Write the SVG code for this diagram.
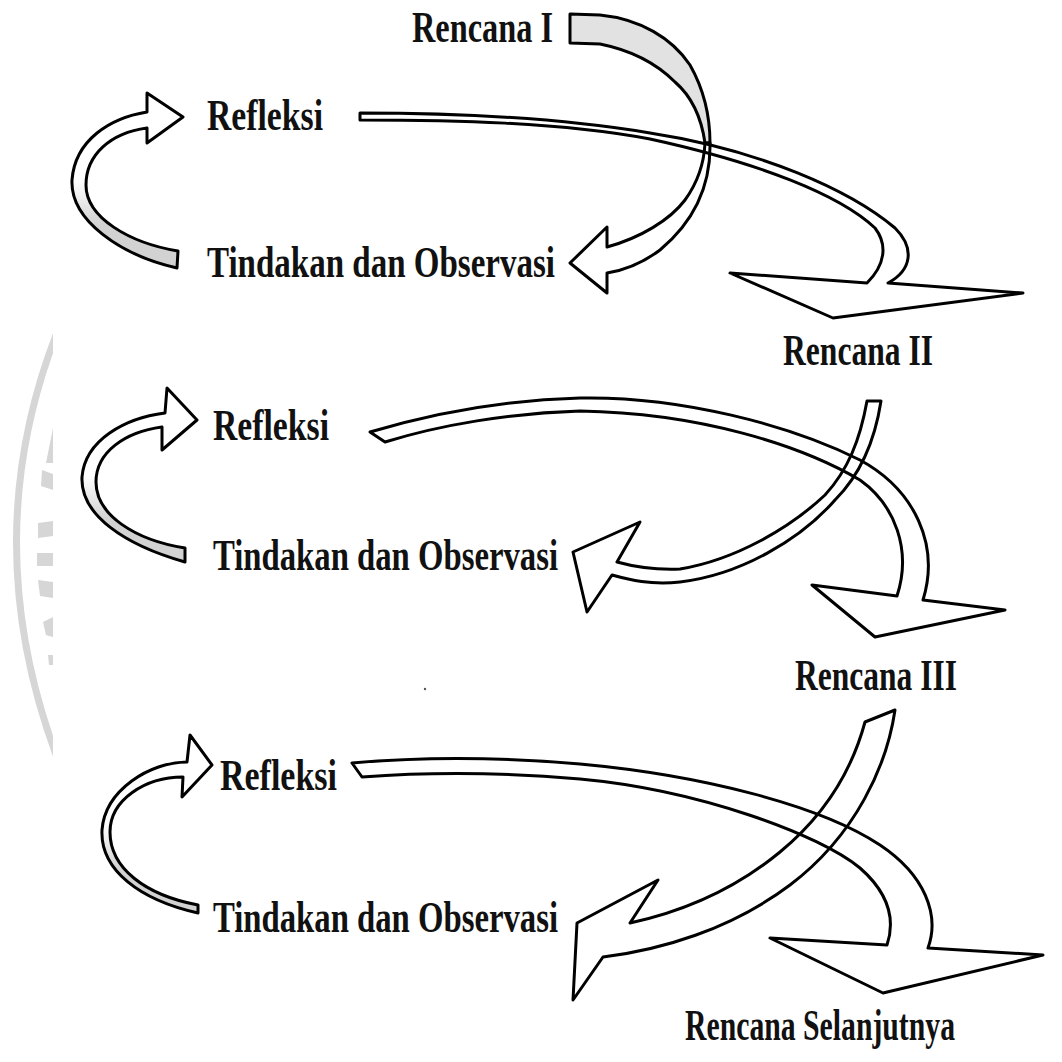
<svg xmlns="http://www.w3.org/2000/svg" xmlns:xlink="http://www.w3.org/1999/xlink" width="1062" height="1062" viewBox="0 0 1062 1062">
  <style>
    .lbl { font-family: "Liberation Serif", "Times New Roman", serif; font-size: 44px; font-weight: bold; fill: #111; }
    .edge { fill: none; stroke: #000; stroke-width: 3; stroke-linejoin: round; }
    .white { fill: #fff; stroke: none; }
    .shade { fill: #e2e2e2; stroke: none; }
    .loop { fill: url(#loopShade); stroke: none; }
    .mark { fill: #d6d6d6; }
  </style>
  <defs>
    <linearGradient id="loopShade" x1="0" y1="0" x2="0" y2="1">
      <stop offset="0" stop-color="#fff"/>
      <stop offset="0.5" stop-color="#fff"/>
      <stop offset="0.75" stop-color="#d2d2d2"/>
      <stop offset="1" stop-color="#d2d2d2"/>
    </linearGradient>
    <clipPath id="leftStrip"><rect x="0" y="0" width="53" height="1062"/></clipPath>

    <!-- cycle 1 -->
    <path id="planTop1" d="M570,14 L600,15 C640,19 672,38 690,65 C703,88 710,115 710,143 L705,143 C701,115 690,95 675,82 C655,62 630,50 600,44 L570,43 Z"/>
    <path id="act1" d="M705,143 L710,143 C711,190 690,225 660,250 C640,265 620,271 607,273 L607,293 L570,263 L607,227 L607,247 C640,238 670,220 685,200 C698,182 704,165 705,143 Z"/>
    <path id="plan2" d="M360,113 C450,113 560,118 650,133 C760,150 850,190 895,228 C915,248 912,270 888,283 L1023,293 L833,318 L730,273 L867,283 C885,265 888,245 875,228 C840,195 760,163 650,139 C560,122 450,120 360,120 Z"/>
    <path id="refl1" d="M147,112 C110,118 75,140 72,180 C70,220 120,255 177,268 L178,251 C130,243 86,218 86,185 C86,155 110,133 147,128 L147,143 L183,117 L147,93 Z"/>

    <!-- cycle 2 -->
    <path id="act2" d="M867,401 L881,401 C875,440 860,475 835,500 C800,540 740,575 680,582 C650,585 630,580 612,575 L587,612 L573,552 L640,522 L617,562 C635,567 655,570 680,569 C735,560 790,528 825,495 C848,470 860,440 867,401 Z"/>
    <path id="plan3" d="M370,432 C430,414 500,400 580,398 C680,396 790,425 860,460 C915,490 940,545 923,600 L1005,610 L875,637 L812,585 L897,596 C912,550 895,505 860,480 C800,445 700,413 580,411 C510,413 440,425 385,442 Z"/>
    <path id="refl2" d="M165,413 C125,418 85,440 82,477 C80,515 125,545 185,562 L185,548 C135,540 96,515 96,482 C96,452 125,432 162,427 L162,450 L197,420 L167,388 Z"/>

    <!-- cycle 3 -->
    <path id="act3" d="M865,722 L895,710 C887,765 856,835 790,885 C730,930 660,950 603,957 L573,1000 L577,923 L658,880 L630,923 C690,910 740,885 780,852 C825,815 852,770 865,722 Z"/>
    <path id="planNext" d="M352,763 C420,757 500,757 580,764 C700,775 820,805 880,845 C925,875 940,915 928,948 L1043,955 L883,993 L770,938 L887,945 C897,915 885,890 860,868 C820,835 700,790 580,779 C500,772 430,772 362,777 Z"/>
    <path id="refl3" d="M187,762 C150,762 105,790 102,830 C100,870 140,900 198,913 L198,905 C145,895 110,868 110,832 C110,800 145,777 183,777 L182,797 L212,765 L190,735 Z"/>
  </defs>

  <rect width="1062" height="1062" fill="#fff"/>

  <!-- faint seal along the left margin -->
  <g id="seal" clip-path="url(#leftStrip)">
    <path d="M58,330 Q-25,540 58,760" fill="none" stroke="#d6d6d6" stroke-width="7"/>
    <polygon class="mark" points="53,428 53,463 46,463"/>
    <polygon class="mark" points="42,470 53,474 53,490 41,486"/>
    <polygon class="mark" points="38,523 53,521 53,536 38,538"/>
    <polygon class="mark" points="37,553 53,553 53,566 37,566"/>
    <polygon class="mark" points="38,580 53,582 53,598 40,596"/>
    <polygon class="mark" points="43,622 53,617 53,637 46,635"/>
    <polygon class="mark" points="48,655 53,655 53,665 49,665"/>
  </g>

  <!-- ribbon arrows: fills first, outlines on top so crossings show both -->
  <g id="connectors">
    <g id="fills">
      <use xlink:href="#planTop1" class="shade"/>
      <use xlink:href="#act1" class="white"/>
      <use xlink:href="#plan2" class="white"/>
      <use xlink:href="#refl1" class="loop"/>
      <use xlink:href="#act2" class="white"/>
      <use xlink:href="#plan3" class="white"/>
      <use xlink:href="#refl2" class="loop"/>
      <use xlink:href="#act3" class="white"/>
      <use xlink:href="#planNext" class="white"/>
      <use xlink:href="#refl3" class="loop"/>
    </g>
    <g id="outlines">
      <use xlink:href="#planTop1" class="edge"/>
      <use xlink:href="#act1" class="edge"/>
      <use xlink:href="#plan2" class="edge"/>
      <use xlink:href="#refl1" class="edge"/>
      <use xlink:href="#act2" class="edge"/>
      <use xlink:href="#plan3" class="edge"/>
      <use xlink:href="#refl2" class="edge"/>
      <use xlink:href="#act3" class="edge"/>
      <use xlink:href="#planNext" class="edge"/>
      <use xlink:href="#refl3" class="edge"/>
    </g>
  </g>

  <circle cx="425" cy="689" r="1.2" fill="#555"/>

  <!-- labels -->
  <g id="rencana-1"><text class="lbl" x="412" y="42" textLength="141" lengthAdjust="spacingAndGlyphs">Rencana I</text></g>
  <g id="refleksi-1"><text class="lbl" x="207" y="130" textLength="116" lengthAdjust="spacingAndGlyphs">Refleksi</text></g>
  <g id="tindakan-1"><text class="lbl" x="207" y="277" textLength="348" lengthAdjust="spacingAndGlyphs">Tindakan dan Observasi</text></g>

  <g id="rencana-2"><text class="lbl" x="783" y="365" textLength="150" lengthAdjust="spacingAndGlyphs">Rencana II</text></g>
  <g id="refleksi-2"><text class="lbl" x="213" y="440" textLength="116" lengthAdjust="spacingAndGlyphs">Refleksi</text></g>
  <g id="tindakan-2"><text class="lbl" x="213" y="570" textLength="345" lengthAdjust="spacingAndGlyphs">Tindakan dan Observasi</text></g>

  <g id="rencana-3"><text class="lbl" x="795" y="690" textLength="162" lengthAdjust="spacingAndGlyphs">Rencana III</text></g>
  <g id="refleksi-3"><text class="lbl" x="220" y="790" textLength="117" lengthAdjust="spacingAndGlyphs">Refleksi</text></g>
  <g id="tindakan-3"><text class="lbl" x="213" y="932" textLength="345" lengthAdjust="spacingAndGlyphs">Tindakan dan Observasi</text></g>

  <g id="rencana-selanjutnya"><text class="lbl" x="955" y="1040" text-anchor="end" font-size="42" textLength="270" lengthAdjust="spacingAndGlyphs">Rencana Selanjutnya</text></g>
</svg>
